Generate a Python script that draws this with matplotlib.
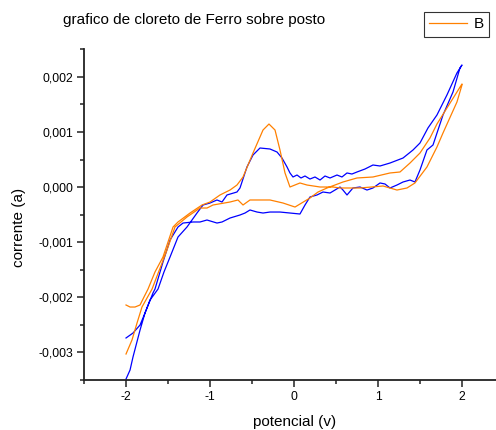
import numpy as np
import matplotlib
matplotlib.use('Agg')
from matplotlib import pyplot as plt
from matplotlib.ticker import MultipleLocator, FuncFormatter

plt.rcParams['font.family'] = ['Liberation Sans', 'DejaVu Sans']
plt.rcParams['axes.unicode_minus'] = False

# blue loop: forward (upper) branch then return (lower) branch, current in mA
blue_v = [-2.0, -1.917, -1.833, -1.774, -1.714, -1.619, -1.548, -1.476, -1.381, -1.274,
          -1.155, -1.083, -1.0, -0.917, -0.857, -0.798, -0.679, -0.643, -0.560, -0.488,
          -0.405, -0.286, -0.202, -0.143, -0.083, -0.048, -0.012, 0.036, 0.083, 0.131,
          0.190, 0.250, 0.310, 0.369, 0.429, 0.512, 0.571, 0.631, 0.690, 0.750,
          0.845, 0.940, 1.024, 1.143, 1.298, 1.417, 1.5, 1.595, 1.702, 1.821,
          1.940, 2.0,
          1.976, 1.893, 1.774, 1.655, 1.583, 1.5, 1.440, 1.381, 1.298, 1.226,
          1.143, 1.083, 1.024, 0.940, 0.869, 0.786, 0.702, 0.631, 0.583, 0.548,
          0.488, 0.429, 0.345, 0.274, 0.190, 0.131, 0.071, -0.048, -0.167, -0.286,
          -0.369, -0.440, -0.524, -0.583, -0.643, -0.762, -0.857, -0.917, -1.036, -1.119,
          -1.202, -1.321, -1.381, -1.476, -1.560, -1.655, -1.679, -1.774, -1.833, -1.917,
          -1.952, -2.0]
blue_i = [-2.745, -2.655, -2.509, -2.291, -2.055, -1.855, -1.545, -1.273, -0.909, -0.727,
          -0.473, -0.327, -0.291, -0.236, -0.273, -0.145, -0.091, -0.018, 0.364, 0.582,
          0.709, 0.691, 0.636, 0.527, 0.364, 0.255, 0.182, 0.218, 0.164, 0.2,
          0.145, 0.182, 0.127, 0.2, 0.164, 0.218, 0.182, 0.255, 0.236, 0.273,
          0.327, 0.4, 0.382, 0.436, 0.527, 0.673, 0.8, 1.073, 1.309, 1.673,
          2.073, 2.218,
          2.164, 1.727, 1.309, 0.764, 0.673, 0.309, 0.091, 0.127, 0.091, 0.036,
          -0.018, 0.055, 0.073, -0.018, -0.055, 0.0, -0.018, -0.145, -0.055, 0.0,
          -0.055, -0.109, -0.091, -0.145, -0.182, -0.327, -0.491, -0.473, -0.455, -0.455,
          -0.473, -0.455, -0.418, -0.473, -0.509, -0.564, -0.636, -0.655, -0.6, -0.636,
          -0.636, -0.655, -0.727, -0.964, -1.364, -1.855, -1.927, -2.291, -2.6, -3.091,
          -3.327, -3.491]

# orange loop (series B)
orange_v = [-2.0, -1.952, -1.893, -1.833, -1.786, -1.738, -1.655, -1.560, -1.440, -1.381,
            -1.238, -1.095, -1.0, -0.881, -0.762, -0.679, -0.607, -0.488, -0.369, -0.298,
            -0.226, -0.167, -0.107, -0.048, 0.071, 0.155, 0.310, 0.464, 0.548, 0.786,
            1.060, 1.226, 1.345, 1.440, 1.583, 1.702, 1.774, 1.833, 1.940, 2.0,
            2.0, 1.940, 1.821, 1.702, 1.619, 1.5, 1.381, 1.262, 1.143, 0.940,
            0.750, 0.583, 0.393, 0.286, 0.190, 0.012, -0.131, -0.286, -0.524, -0.607,
            -0.667, -0.762, -0.964, -1.036, -1.119, -1.274, -1.417, -1.512, -1.690, -1.810,
            -1.869, -1.929, -2.0]
orange_i = [-2.145, -2.182, -2.182, -2.145, -2.0, -1.855, -1.545, -1.273, -0.727, -0.636,
            -0.473, -0.327, -0.273, -0.145, -0.055, 0.036, 0.182, 0.618, 1.036, 1.145,
            1.036, 0.673, 0.255, 0.0, 0.073, 0.036, 0.0, 0.0, -0.018, -0.018,
            0.018, -0.055, -0.018, 0.073, 0.364, 0.727, 0.982, 1.182, 1.545, 1.855,
            1.873, 1.727, 1.436, 1.145, 0.891, 0.618, 0.436, 0.273, 0.255, 0.182,
            0.164, 0.091, -0.018, -0.091, -0.2, -0.364, -0.291, -0.236, -0.236, -0.327,
            -0.236, -0.273, -0.327, -0.382, -0.382, -0.545, -0.727, -1.145, -1.855, -2.182,
            -2.473, -2.782, -3.036]

fig = plt.figure(figsize=(4.96, 4.30), dpi=100)
ax = fig.add_axes([0.1694, 0.1174, 0.8306, 0.7675])

ax.plot(blue_v, np.array(blue_i) * 1e-3, color='#0000ff', lw=0.9)
ax.plot(orange_v, np.array(orange_i) * 1e-3, color='#ff8000', lw=0.9, label='B')

ax.set_xlim(-2.5, 2.405)
ax.set_ylim(-0.0035, 0.0025)

for s in ['top', 'right']:
    ax.spines[s].set_visible(False)
for s in ['left', 'bottom']:
    ax.spines[s].set_linewidth(1.3)
    ax.spines[s].set_color('#222222')

ax.xaxis.set_major_locator(MultipleLocator(1))
ax.xaxis.set_minor_locator(MultipleLocator(0.5))
ax.yaxis.set_major_locator(MultipleLocator(0.001))
ax.yaxis.set_minor_locator(MultipleLocator(0.0005))
ax.yaxis.set_major_formatter(FuncFormatter(lambda v, p: ('%.3f' % (v + 0.0)).replace('.', ',').replace('-0,000', '0,000')))
ax.tick_params(which='major', direction='out', length=5, width=1.1, color='#222222',
               labelsize=8.7, pad=3)
ax.tick_params(which='minor', direction='out', length=3, width=1.1, color='#222222')

ax.set_xlabel('potencial (v)', fontsize=11)
ax.set_ylabel('corrente (a)', fontsize=11)
ax.xaxis.set_label_coords(0.511, -0.128)
ax.xaxis.label.set_verticalalignment('center')
ax.yaxis.set_label_coords(-0.158, 0.462)
ax.yaxis.label.set_verticalalignment('center')

fig.text(63 / 496, 1 - 20 / 430, 'grafico de cloreto de Ferro sobre posto',
         fontsize=11, ha='left', va='center')

leg = ax.legend(loc='upper right', bbox_to_anchor=(489 / 496, 1 - 12 / 430),
                bbox_transform=fig.transFigure, fontsize=11, frameon=True,
                fancybox=False, handlelength=2.5, borderpad=0.35, borderaxespad=0,
                handletextpad=0.4)
leg.get_frame().set_edgecolor('black')
leg.get_frame().set_linewidth(0.8)

fig.savefig('out.png', dpi=100)
